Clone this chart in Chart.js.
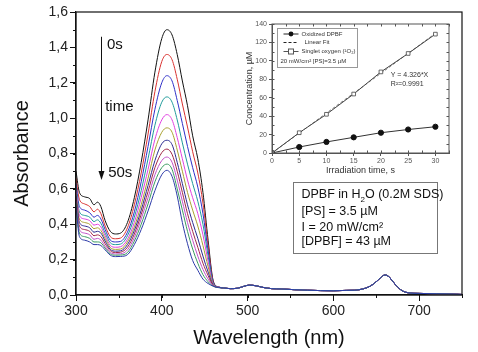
<!DOCTYPE html>
<html>
<head>
<meta charset="utf-8">
<script src="https://cdn.jsdelivr.net/npm/chart.js@4/dist/chart.umd.min.js"></script>
<style>
  html, body { margin: 0; padding: 0; background: #fff; }
  #wrap { position: relative; width: 478px; height: 352px; }
  #main { position: absolute; left: 0; top: 0; }
  #inset { position: absolute; left: 236px; top: 14px; }
</style>
</head>
<body>
<div id="wrap">
  <canvas id="main" width="478" height="352" style="width:478px;height:352px"></canvas>
  <canvas id="inset" width="230" height="170" style="width:230px;height:170px"></canvas>
</div>
<script>
/* =========================
   DATA - spectra
========================= */
// wavelengths (nm) where the curves differ
const wl = [300, 304, 310, 316, 321, 325, 329, 334, 340, 346, 352, 360, 368, 376, 384, 392, 400, 406, 412, 418, 424, 430, 436, 442, 448, 454, 460, 466];
// common tail, all curves overlap here
const tailWl  = [472, 480, 488, 495, 502, 510, 518, 528, 540, 555, 570, 585, 600, 615, 625, 635, 643, 650, 655, 660, 664, 668, 673, 680, 688, 700, 720, 740, 750];
const tailAbs = [0.040, 0.036, 0.038, 0.048, 0.056, 0.052, 0.043, 0.036, 0.034, 0.030, 0.027, 0.025, 0.024, 0.026, 0.027, 0.035, 0.050, 0.075, 0.097, 0.113, 0.107, 0.085, 0.055, 0.025, 0.012, 0.009, 0.007, 0.005, 0.003];

const abs0s  = [0.70, 0.58, 0.555, 0.545, 0.51, 0.525, 0.50, 0.42, 0.36, 0.345, 0.35, 0.41, 0.55, 0.75, 0.99, 1.26, 1.45, 1.50, 1.47, 1.36, 1.21, 1.07, 0.90, 0.77, 0.58, 0.31, 0.08, 0.045];
const abs5s  = [0.66, 0.54, 0.515, 0.50, 0.47, 0.485, 0.46, 0.39, 0.33, 0.318, 0.322, 0.38, 0.51, 0.69, 0.91, 1.15, 1.32, 1.36, 1.33, 1.22, 1.08, 0.95, 0.81, 0.69, 0.52, 0.28, 0.075, 0.045];
const abs10s = [0.63, 0.50, 0.48, 0.465, 0.44, 0.45, 0.43, 0.37, 0.31, 0.30, 0.303, 0.355, 0.47, 0.64, 0.84, 1.05, 1.20, 1.24, 1.21, 1.10, 0.97, 0.84, 0.72, 0.61, 0.46, 0.25, 0.07, 0.045];
const abs15s = [0.61, 0.47, 0.45, 0.44, 0.415, 0.425, 0.405, 0.35, 0.295, 0.285, 0.288, 0.335, 0.44, 0.59, 0.77, 0.96, 1.09, 1.12, 1.09, 0.99, 0.86, 0.74, 0.63, 0.53, 0.40, 0.22, 0.065, 0.045];
const abs20s = [0.59, 0.45, 0.43, 0.42, 0.395, 0.40, 0.385, 0.335, 0.28, 0.27, 0.273, 0.315, 0.41, 0.55, 0.71, 0.88, 0.99, 1.02, 0.99, 0.89, 0.77, 0.65, 0.55, 0.46, 0.34, 0.19, 0.06, 0.045];
const abs25s = [0.57, 0.43, 0.41, 0.40, 0.375, 0.38, 0.365, 0.32, 0.268, 0.258, 0.26, 0.30, 0.385, 0.51, 0.66, 0.82, 0.92, 0.945, 0.92, 0.82, 0.70, 0.58, 0.48, 0.39, 0.28, 0.16, 0.058, 0.044];
const abs30s = [0.56, 0.41, 0.39, 0.38, 0.355, 0.36, 0.35, 0.305, 0.258, 0.248, 0.25, 0.285, 0.365, 0.48, 0.62, 0.76, 0.855, 0.875, 0.85, 0.75, 0.63, 0.51, 0.41, 0.32, 0.22, 0.13, 0.055, 0.044];
const abs35s = [0.55, 0.39, 0.37, 0.36, 0.335, 0.34, 0.33, 0.29, 0.25, 0.24, 0.242, 0.27, 0.345, 0.455, 0.585, 0.72, 0.805, 0.825, 0.795, 0.70, 0.58, 0.46, 0.36, 0.27, 0.18, 0.11, 0.053, 0.043];
const abs40s = [0.53, 0.37, 0.35, 0.34, 0.315, 0.32, 0.31, 0.275, 0.24, 0.232, 0.233, 0.255, 0.325, 0.43, 0.55, 0.68, 0.76, 0.78, 0.75, 0.65, 0.53, 0.41, 0.31, 0.22, 0.145, 0.09, 0.052, 0.043];
const abs45s = [0.52, 0.35, 0.33, 0.32, 0.30, 0.30, 0.295, 0.265, 0.232, 0.225, 0.226, 0.24, 0.305, 0.40, 0.515, 0.64, 0.72, 0.74, 0.71, 0.60, 0.48, 0.36, 0.26, 0.18, 0.115, 0.075, 0.05, 0.042];
const abs50s = [0.50, 0.33, 0.31, 0.30, 0.285, 0.285, 0.28, 0.255, 0.225, 0.217, 0.218, 0.228, 0.285, 0.37, 0.475, 0.59, 0.68, 0.705, 0.67, 0.56, 0.41, 0.29, 0.195, 0.14, 0.09, 0.065, 0.05, 0.042];

const timeLabels = ['0s', '5s', '10s', '15s', '20s', '25s', '30s', '35s', '40s', '45s', '50s'];
const curveColors = ['#111111', '#d9312f', '#2f2fc8', '#1f9a9a', '#e040e0', '#a8a030', '#2a2a90', '#a02848', '#c050c8', '#3a9a60', '#2c3aa8'];

/* =========================
   DATA - inset
========================= */
const irrTime = [0, 5, 10, 15, 20, 25, 30];
const oxidizedDPBF = [0, 6.5, 12, 17, 22, 25.5, 28.5];
const singletO2 = [0, 22, 42, 64, 88, 108, 129];
const fitTime = [0, 30];
const fitConc = [0, 129.8];

const FONT = "'Liberation Sans', Arial, sans-serif";

/* =========================
   PLUGINS
========================= */
// full box round the plot area + minor ticks
const frame = {
  id: 'frame',
  afterDraw(chart, args, opts) {
    const {ctx, chartArea: a, scales} = chart;
    ctx.save();
    ctx.strokeStyle = opts.color;
    ctx.lineWidth = opts.width;
    ctx.strokeRect(a.left, a.top, a.right - a.left, a.bottom - a.top);
    ctx.lineWidth = 1;
    // minor ticks
    const xs = scales.x, ys = scales.y;
    for (let v = xs.min; v <= xs.max + 1e-9; v += opts.xMinor) {
      const px = Math.round(xs.getPixelForValue(v)) + 0.5;
      ctx.beginPath();
      ctx.moveTo(px, a.bottom); ctx.lineTo(px, a.bottom + opts.minorLen * opts.dir);
      if (opts.mirror) { ctx.moveTo(px, a.top); ctx.lineTo(px, a.top + opts.minorLen); }
      ctx.stroke();
    }
    for (let v = ys.min; v <= ys.max + 1e-9; v += opts.yMinor) {
      const py = Math.round(ys.getPixelForValue(v)) + 0.5;
      ctx.beginPath();
      ctx.moveTo(a.left, py); ctx.lineTo(a.left - opts.minorLen * opts.dir, py);
      if (opts.mirror) { ctx.moveTo(a.right, py); ctx.lineTo(a.right - opts.minorLen, py); }
      ctx.stroke();
    }
    ctx.restore();
  }
};

// arrow, time labels and the condition box
const mainNotes = {
  id: 'mainNotes',
  afterDraw(chart) {
    const {ctx, scales: {x, y}} = chart;
    ctx.save();
    const ax = Math.round(x.getPixelForValue(329)) + 0.5;
    const ay0 = y.getPixelForValue(1.46);
    const ay1 = y.getPixelForValue(0.65);
    ctx.strokeStyle = '#111';
    ctx.fillStyle = '#111';
    ctx.lineWidth = 1;
    ctx.beginPath(); ctx.moveTo(ax, ay0); ctx.lineTo(ax, ay1 - 6); ctx.stroke();
    ctx.beginPath(); ctx.moveTo(ax, ay1); ctx.lineTo(ax - 3, ay1 - 9); ctx.lineTo(ax + 3, ay1 - 9); ctx.closePath(); ctx.fill();

    ctx.font = '15px ' + FONT;
    ctx.textBaseline = 'middle';
    ctx.textAlign = 'left';
    ctx.fillText('0s', x.getPixelForValue(336), y.getPixelForValue(1.413));
    ctx.fillText('time', x.getPixelForValue(334), y.getPixelForValue(1.063));
    ctx.fillText('50s', x.getPixelForValue(337.5), y.getPixelForValue(0.69));

    // conditions box
    const bx0 = Math.round(x.getPixelForValue(553)) + 0.5, bx1 = Math.round(x.getPixelForValue(721)) + 0.5;
    const by0 = Math.round(y.getPixelForValue(0.64)) + 0.5, by1 = Math.round(y.getPixelForValue(0.24)) + 0.5;
    ctx.fillStyle = '#fff';
    ctx.fillRect(bx0, by0, bx1 - bx0, by1 - by0);
    ctx.strokeStyle = '#777';
    ctx.strokeRect(bx0, by0, bx1 - bx0, by1 - by0);
    ctx.fillStyle = '#111';
    const tx = bx0 + 8;
    ctx.font = '12.5px ' + FONT;
    let cx = tx;
    const l1 = by0 + 12;
    ctx.fillText('DPBF in H', cx, l1); cx += ctx.measureText('DPBF in H').width;
    ctx.font = '8px ' + FONT; ctx.fillText('2', cx, l1 + 5); cx += ctx.measureText('2').width;
    ctx.font = '12.5px ' + FONT; ctx.fillText('O (0.2M SDS)', cx, l1);
    ctx.fillText('[PS] = 3.5 \u00B5M', tx, by0 + 29.5);
    ctx.fillText('I = 20 mW/cm\u00B2', tx, by0 + 45);
    ctx.fillText('[DPBF] = 43 \u00B5M', tx, by0 + 59.5);
    ctx.restore();
  }
};

/* =========================
   MAIN CHART
========================= */
const curves = [abs0s, abs5s, abs10s, abs15s, abs20s, abs25s, abs30s, abs35s, abs40s, abs45s, abs50s];
const allWl = wl.concat(tailWl);

new Chart(document.getElementById('main'), {
  type: 'line',
  data: {
    datasets: curves.map((vals, i) => {
      const ys = vals.concat(tailAbs);
      return {
        label: timeLabels[i],
        data: allWl.map((w, j) => ({x: w, y: ys[j]})),
        borderColor: curveColors[i],
        borderWidth: 1,
        pointRadius: 0,
        cubicInterpolationMode: 'monotone',
        order: curves.length - i
      };
    })
  },
  options: {
    responsive: false,
    animation: false,
    events: [],
    layout: {padding: {left: 0, top: 12, right: 16, bottom: 0}},
    plugins: {
      legend: {display: false},
      tooltip: {enabled: false},
      frame: {color: '#111', width: 1.2, xMinor: 50, yMinor: 0.1, minorLen: 3, dir: 1, mirror: false}
    },
    scales: {
      x: {
        type: 'linear',
        min: 300, max: 750,
        border: {color: '#111', width: 1.2},
        grid: {drawOnChartArea: false, tickLength: 6, tickColor: '#111'},
        ticks: {stepSize: 100, includeBounds: false, color: '#222', padding: 2, maxRotation: 0,
                font: {family: FONT, size: 14}},
        title: {display: true, text: 'Wavelength (nm)', color: '#111',
                font: {family: FONT, size: 20}, padding: {top: 0, bottom: 2}},
        afterFit: s => { s.height = 57; }
      },
      y: {
        min: 0, max: 1.6,
        border: {color: '#111', width: 1.2},
        grid: {drawOnChartArea: false, tickLength: 6, tickColor: '#111'},
        ticks: {stepSize: 0.2, color: '#222', padding: 2,
                font: {family: FONT, size: 14},
                callback: v => v.toFixed(1).replace('.', ',')},
        title: {display: true, text: 'Absorbance', color: '#111',
                font: {family: FONT, size: 20}, padding: {top: 10, bottom: 0}},
        afterFit: s => { s.width = 76; }
      }
    }
  },
  plugins: [frame, mainNotes]
});

/* =========================
   INSET
========================= */
const insetNotes = {
  id: 'insetNotes',
  afterDraw(chart) {
    const {ctx, chartArea: a, scales: {x, y}} = chart;
    ctx.save();
    // legend box
    const lx = a.left + 5.5, ly = a.top + 4.5, lw = 80, lh = 39;
    ctx.strokeStyle = '#999';
    ctx.lineWidth = 1;
    ctx.fillStyle = '#fff';
    ctx.fillRect(lx, ly, lw, lh);
    ctx.strokeRect(lx, ly, lw, lh);
    ctx.font = '6px ' + FONT;
    ctx.textBaseline = 'middle';
    ctx.fillStyle = '#333';
    const sx0 = lx + 6, sx1 = lx + 21, sm = (sx0 + sx1) / 2, tx = lx + 24;
    // oxidized DPBF
    let yy = ly + 5.5;
    ctx.strokeStyle = '#222';
    ctx.beginPath(); ctx.moveTo(sx0, yy); ctx.lineTo(sx1, yy); ctx.stroke();
    ctx.beginPath(); ctx.arc(sm, yy, 2.4, 0, Math.PI * 2); ctx.fillStyle = '#111'; ctx.fill();
    ctx.fillStyle = '#333'; ctx.fillText('Oxidized DPBF', tx, yy);
    // linear fit
    yy = ly + 14;
    ctx.setLineDash([3, 2]);
    ctx.beginPath(); ctx.moveTo(sx0, yy); ctx.lineTo(sx1, yy); ctx.stroke();
    ctx.setLineDash([]);
    ctx.fillText('Linear Fit', tx + 3, yy);
    // singlet oxygen
    yy = ly + 23;
    ctx.strokeStyle = '#555';
    ctx.beginPath(); ctx.moveTo(sx0, yy); ctx.lineTo(sx1, yy); ctx.stroke();
    ctx.fillStyle = '#fff'; ctx.fillRect(sm - 2.5, yy - 2.5, 5, 5);
    ctx.strokeRect(sm - 2.5, yy - 2.5, 5, 5);
    ctx.fillStyle = '#333'; ctx.fillText('Singlet oxygen (\u00B9O\u2082)', tx, yy);
    // conditions
    yy = ly + 32.5;
    ctx.fillText('20 mW/cm\u00B2 [PS]=3.5 \u00B5M', lx + 3, yy);

    // fit result
    ctx.font = '7px ' + FONT;
    ctx.fillStyle = '#333';
    ctx.fillText('Y = 4.326*X', x.getPixelForValue(21.8), y.getPixelForValue(84.5));
    ctx.fillText('R\u00B2=0.9991', x.getPixelForValue(21.8), y.getPixelForValue(74.5));
    ctx.restore();
  }
};

new Chart(document.getElementById('inset'), {
  type: 'line',
  data: {
    datasets: [
      {
        label: 'Singlet oxygen',
        data: irrTime.map((t, i) => ({x: t, y: singletO2[i]})),
        borderColor: '#444', borderWidth: 1,
        pointStyle: 'rect', pointRadius: 2.6,
        pointBackgroundColor: '#fff', pointBorderColor: '#444', pointBorderWidth: 0.8
      },
      {
        label: 'Linear Fit',
        data: fitTime.map((t, i) => ({x: t, y: fitConc[i]})),
        borderColor: '#555', borderWidth: 0.8, borderDash: [3, 2],
        pointRadius: 0
      },
      {
        label: 'Oxidized DPBF',
        data: irrTime.map((t, i) => ({x: t, y: oxidizedDPBF[i]})),
        borderColor: '#333', borderWidth: 1,
        pointStyle: 'circle', pointRadius: 2.6,
        pointBackgroundColor: '#111', pointBorderColor: '#111'
      }
    ]
  },
  options: {
    responsive: false,
    animation: false,
    events: [],
    layout: {padding: {left: 0, top: 10, right: 17, bottom: 0}},
    plugins: {
      legend: {display: false},
      tooltip: {enabled: false},
      frame: {color: '#555', width: 1, xMinor: 2.5, yMinor: 10, minorLen: 2.5, dir: -1, mirror: true}
    },
    scales: {
      x: {
        type: 'linear',
        min: 0, max: 32.5,
        border: {color: '#555', width: 1},
        grid: {drawOnChartArea: false, tickLength: 3, tickColor: '#555'},
        ticks: {stepSize: 5, includeBounds: false, color: '#555', padding: 1, maxRotation: 0,
                font: {family: FONT, size: 7}},
        title: {display: true, text: 'Irradiation time, s', color: '#333',
                font: {family: FONT, size: 9}, padding: {top: 0, bottom: 8}},
        afterFit: s => { s.height = 31; }
      },
      y: {
        min: 0, max: 140,
        border: {color: '#555', width: 1},
        grid: {drawOnChartArea: false, tickLength: 3, tickColor: '#555'},
        ticks: {stepSize: 20, color: '#555', padding: 2,
                font: {family: FONT, size: 7}},
        title: {display: true, text: 'Concentration, \u00B5M', color: '#333',
                font: {family: FONT, size: 9}, padding: {top: 8, bottom: 0}},
        afterFit: s => { s.width = 36; }
      }
    }
  },
  plugins: [frame, insetNotes]
});
</script>
</body>
</html>
